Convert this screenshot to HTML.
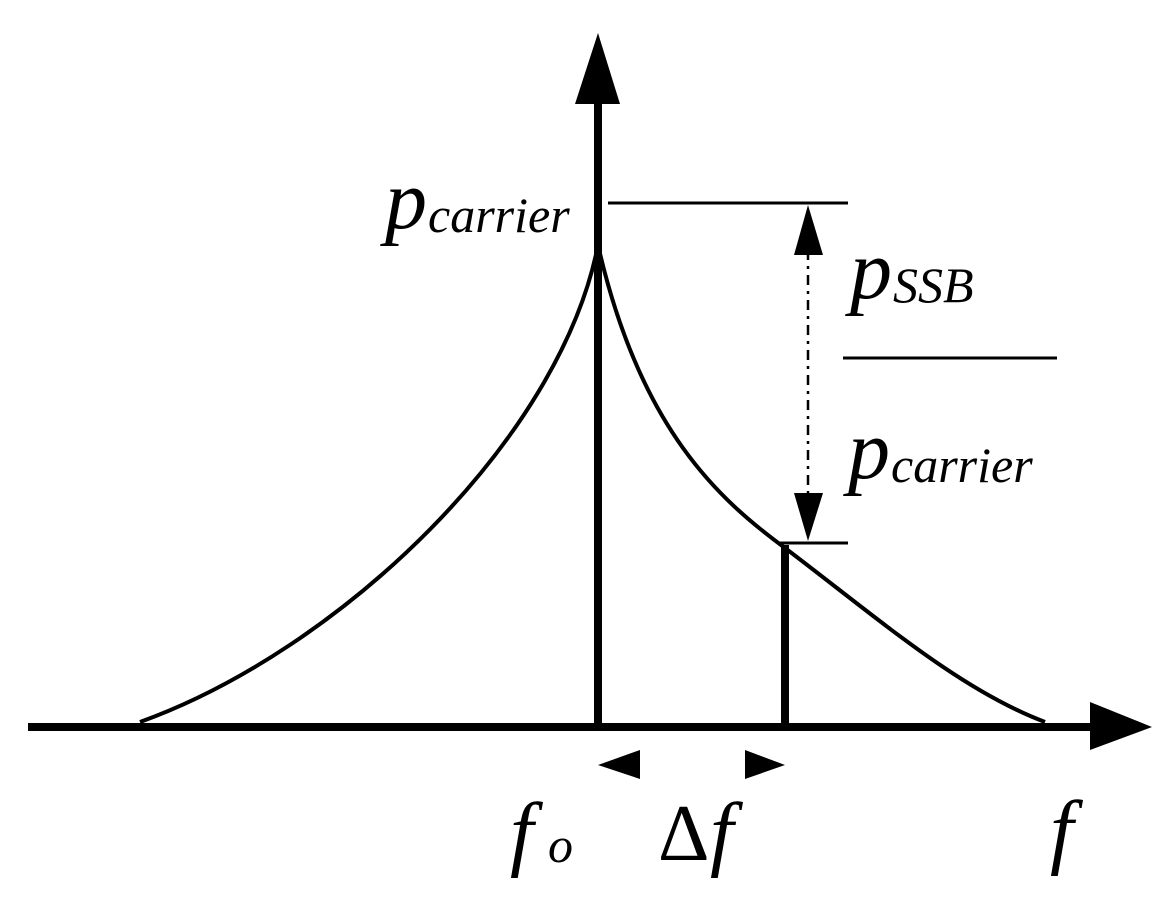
<!DOCTYPE html>
<html><head><style>
html,body{margin:0;padding:0;background:#fff;}
svg{display:block;}
text{font-family:"Liberation Serif","DejaVu Serif","Times New Roman",serif;font-style:italic;fill:#000;}
</style></head><body>
<svg width="1168" height="910" viewBox="0 0 1168 910" xmlns="http://www.w3.org/2000/svg">
<line x1="28" y1="727" x2="1095" y2="727" stroke="#000" stroke-width="8"/>
<polygon points="1090,702 1152,727 1090,750" fill="#000"/>
<line x1="598" y1="100" x2="598" y2="727" stroke="#000" stroke-width="8"/>
<polygon points="575,104 598,33 620,104" fill="#000"/>
<path d="M140,722 C340,650 560,440 598,245" fill="none" stroke="#000" stroke-width="4"/>
<path d="M598,245 C640,430 720,500 785,548 C880,620 960,690 1045,722" fill="none" stroke="#000" stroke-width="4"/>
<line x1="785" y1="545" x2="785" y2="727" stroke="#000" stroke-width="8"/>
<line x1="608" y1="203" x2="848" y2="203" stroke="#000" stroke-width="3"/>
<line x1="780" y1="543" x2="848" y2="543" stroke="#000" stroke-width="3"/>
<line x1="808" y1="250" x2="808" y2="500" stroke="#000" stroke-width="2.5" stroke-dasharray="10,6,3,6"/>
<polygon points="794,255 808,205 823,255" fill="#000"/>
<polygon points="794,493 808,541 823,493" fill="#000"/>
<line x1="843" y1="358" x2="1057" y2="358" stroke="#000" stroke-width="3"/>
<polygon points="598,765 640,750 640,779" fill="#000"/>
<polygon points="745,750 785,765 745,779" fill="#000"/>
<text x="385" y="228" font-size="84">p</text>
<text x="428" y="232" font-size="50">carrier</text>
<text x="850" y="298" font-size="84">p</text>
<text x="893" y="302" font-size="50">SSB</text>
<text x="848" y="478" font-size="84">p</text>
<text x="891" y="482" font-size="50">carrier</text>
<text x="510" y="860" font-size="84">f</text>
<text x="548" y="862" font-size="50">o</text>
<text x="658" y="860" font-size="80" style="font-style:normal">Δ</text>
<text x="710" y="860" font-size="84">f</text>
<text x="1050" y="858" font-size="84">f</text>
</svg>
</body></html>
